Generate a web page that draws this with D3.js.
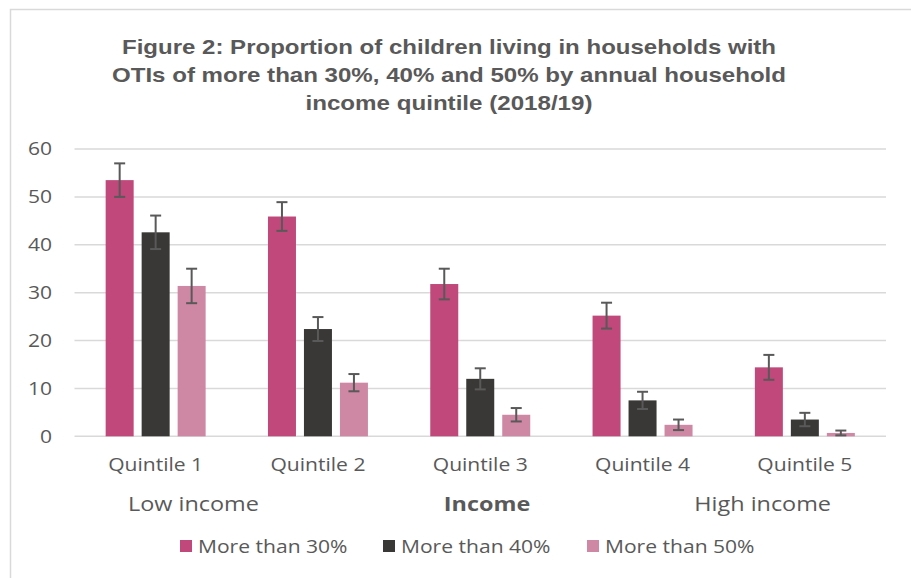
<!DOCTYPE html>
<html>
<head>
<meta charset="utf-8">
<script src="https://cdn.jsdelivr.net/npm/d3@7"></script>
<style>
  body { margin: 0; background: #fff; }
  text { font-family: "Open Sans", Lato, sans-serif; fill: #595959; }
</style>
</head>
<body>
<div id="chart"></div>
<script>
// Data
const categories = ["Quintile 1", "Quintile 2", "Quintile 3", "Quintile 4", "Quintile 5"];
const seriesNames = ["More than 30%", "More than 40%", "More than 50%"];
const values30 = [53.5, 45.9, 31.8, 25.2, 14.4];
const values40 = [42.6, 22.4, 12.0, 7.5, 3.5];
const values50 = [31.4, 11.2, 4.5, 2.4, 0.7];
// +/- margin of the error bars
const err30 = [3.5, 3.0, 3.2, 2.7, 2.6];
const err40 = [3.5, 2.5, 2.2, 1.8, 1.4];
const err50 = [3.6, 1.8, 1.4, 1.1, 0.5];
const yTicks = [0, 10, 20, 30, 40, 50, 60];
const colors = ["#c0487a", "#3a3836", "#ce88a4"];

const width = 911, height = 578;
const plot = { left: 74.5, right: 886, top: 149, bottom: 436.3 };
const stretch = 1.17; // the original text is a bit wider than these fonts

const svg = d3.select("#chart").append("svg")
    .attr("width", width)
    .attr("height", height);

// chart area border
svg.append("rect")
    .attr("x", 10.5).attr("y", 9.5)
    .attr("width", width + 10).attr("height", height + 10)
    .attr("fill", "none")
    .attr("stroke", "#d9d9d9")
    .attr("stroke-width", 1.5);

// Title (stretched to the widths seen in the figure)
const titleLines = [
    { text: "Figure 2: Proportion of children living in households with", len: 654 },
    { text: "OTIs of more than 30%, 40% and 50% by annual household", len: 674 },
    { text: "income quintile (2018/19)", len: 287 }
];
const title = svg.append("text")
    .attr("text-anchor", "middle")
    .style("font-family", "'Liberation Sans', Arial, sans-serif")
    .style("font-weight", "bold")
    .style("font-size", "21px");
titleLines.forEach((line, i) => {
    title.append("tspan")
        .attr("x", 449).attr("y", 54 + i * 28)
        .attr("textLength", line.len)
        .attr("lengthAdjust", "spacingAndGlyphs")
        .text(line.text);
});

// Scales
const x0 = d3.scaleBand()
    .domain(categories)
    .range([plot.left, plot.right])
    .paddingInner(0.384)
    .paddingOuter(0.192);

const x1 = d3.scaleBand()
    .domain(seriesNames)
    .range([0, x0.bandwidth()])
    .paddingInner(0.222);

const y = d3.scaleLinear()
    .domain([0, 60])
    .range([plot.bottom, plot.top]);

// Gridlines
svg.append("g")
    .selectAll("line")
    .data(yTicks)
    .enter().append("line")
    .attr("x1", plot.left)
    .attr("x2", plot.right)
    .attr("y1", d => y(d))
    .attr("y2", d => y(d))
    .attr("stroke", "#d9d9d9")
    .attr("stroke-width", 1.5);

// Y axis labels
svg.append("g")
    .attr("class", "lbl")
    .attr("transform", `translate(${plot.left - 22.5},0)`)
    .call(d3.axisLeft(y).tickValues(yTicks).tickSize(0).tickPadding(0))
    .call(g => g.select(".domain").remove())
    .selectAll("text")
    .style("font-family", "'Open Sans', sans-serif")
    .style("font-size", "18px")
    .attr("fill", "#595959");

// X axis labels
svg.append("g")
    .attr("class", "lbl")
    .attr("transform", `translate(0,${plot.bottom})`)
    .call(d3.axisBottom(x0).tickSize(0).tickPadding(22))
    .call(g => g.select(".domain").remove())
    .selectAll("text")
    .style("font-family", "'Open Sans', sans-serif")
    .style("font-size", "18px")
    .attr("fill", "#595959");

// Build rows
const seriesData = [values30, values40, values50];
const seriesErr = [err30, err40, err50];
const rows = [];
categories.forEach((c, ci) => {
    seriesNames.forEach((s, si) => {
        rows.push({ cat: c, series: s, si: si, value: seriesData[si][ci], err: seriesErr[si][ci] });
    });
});

// Bars
svg.append("g")
    .selectAll("rect")
    .data(rows)
    .enter().append("rect")
    .attr("x", d => x0(d.cat) + x1(d.series))
    .attr("y", d => y(d.value))
    .attr("width", x1.bandwidth())
    .attr("height", d => y(0) - y(d.value))
    .attr("fill", d => colors[d.si]);

// Error bars
const eb = svg.append("g")
    .attr("stroke", "#595959")
    .attr("stroke-width", 2);
const cap = 5.5;
rows.forEach(d => {
    const cx = x0(d.cat) + x1(d.series) + x1.bandwidth() / 2;
    const hi = y(d.value + d.err), lo = y(Math.max(0, d.value - d.err));
    eb.append("line").attr("x1", cx).attr("x2", cx).attr("y1", hi).attr("y2", lo);
    eb.append("line").attr("x1", cx - cap).attr("x2", cx + cap).attr("y1", hi).attr("y2", hi);
    eb.append("line").attr("x1", cx - cap).attr("x2", cx + cap).attr("y1", lo).attr("y2", lo);
});

// Income labels
const lbl = svg.append("g").attr("class", "lbl");
lbl.append("text")
    .attr("x", 128).attr("y", 511)
    .style("font-size", "20px")
    .text("Low income");
lbl.append("text")
    .attr("x", 487).attr("y", 511)
    .attr("text-anchor", "middle")
    .style("font-size", "20px")
    .style("font-weight", "bold")
    .text("Income");
lbl.append("text")
    .attr("x", 831).attr("y", 511)
    .attr("text-anchor", "end")
    .style("font-size", "20px")
    .text("High income");

// Legend
const legendX = [180, 383, 587];
const legend = svg.append("g").attr("class", "lbl");
seriesNames.forEach((s, i) => {
    legend.append("rect")
        .attr("x", legendX[i]).attr("y", 540)
        .attr("width", 12).attr("height", 12)
        .attr("fill", colors[i]);
    legend.append("text")
        .attr("x", legendX[i] + 18).attr("y", 553)
        .style("font-size", "18px")
        .text(s);
});

// widen the label text a little, as in the figure
svg.selectAll(".lbl text").each(function () {
    const w = this.getComputedTextLength();
    d3.select(this)
        .attr("textLength", w * stretch)
        .attr("lengthAdjust", "spacingAndGlyphs");
});
</script>
</body>
</html>
